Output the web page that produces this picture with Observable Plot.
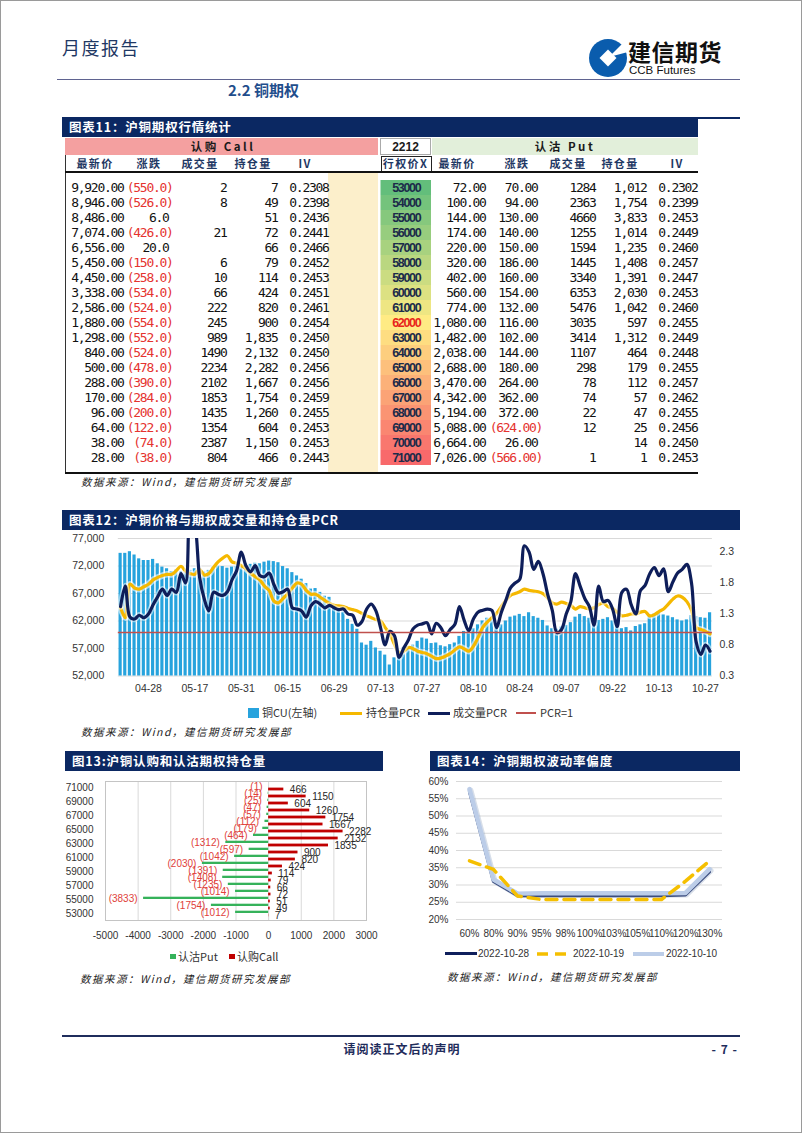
<!DOCTYPE html>
<html><head><meta charset="utf-8">
<script src="https://cdn.jsdelivr.net/npm/d3@7"></script>
<script src="https://cdn.jsdelivr.net/npm/@observablehq/plot@0.6"></script>
<style>
html,body{margin:0;padding:0;background:#fff;}
#page{position:relative;width:802px;height:1133px;overflow:hidden;background:#fff;font-family:"Noto Sans CJK SC","Noto Sans",sans-serif;}
.a{position:absolute;white-space:nowrap;}
.tb{position:absolute;background:#0b2862;color:#fff;font-weight:700;font-size:12.5px;height:20px;line-height:20px;padding-left:7px;letter-spacing:0.8px;box-sizing:border-box;white-space:nowrap;}
.src{font-style:italic;font-size:10.5px;color:#222;letter-spacing:1.5px;}
.ic{line-height:0;}
.ic svg{display:block;}
g[aria-label="strike"] text{letter-spacing:0;}
</style></head><body><div id="page"></div>
<script>
// ================= DATA =================
// Table 11: copper options quotes (strike 2212 series)
const strikes = [53000,54000,55000,56000,57000,58000,59000,60000,61000,62000,63000,64000,65000,66000,67000,68000,69000,70000,71000];
const callLast = [9920,8946,8486,7074,6556,5450,4450,3338,2586,1880,1298,840,500,288,170,96,64,38,28];
const callChg = [-550,-526,6,-426,20,-150,-258,-534,-524,-554,-552,-524,-478,-390,-284,-200,-122,-74,-38];
const callVol = [2,8,null,21,null,6,10,66,222,245,989,1490,2234,2102,1853,1435,1354,2387,804];
const callOI = [7,49,51,72,66,79,114,424,820,900,1835,2132,2282,1667,1754,1260,604,1150,466];
const callIV = [0.2308,0.2398,0.2436,0.2441,0.2466,0.2452,0.2453,0.2451,0.2461,0.2454,0.2450,0.2450,0.2456,0.2456,0.2459,0.2455,0.2453,0.2453,0.2443];
const putLast = [72,100,144,174,220,320,402,560,774,1080,1482,2038,2688,3470,4342,5194,5088,6664,7026];
const putChg = [70,94,130,140,150,186,160,154,132,116,102,144,180,264,362,372,-624,26,-566];
const putVol = [1284,2363,4660,1255,1594,1445,3340,6353,5476,3035,3414,1107,298,78,74,22,12,null,1];
const putOI = [1012,1754,3833,1014,1235,1408,1391,2030,1042,597,1312,464,179,112,57,47,25,14,1];
const putIV = [0.2302,0.2399,0.2453,0.2449,0.2460,0.2457,0.2447,0.2453,0.2460,0.2455,0.2449,0.2448,0.2455,0.2457,0.2462,0.2455,0.2456,0.2450,0.2453];
const atmStrike = 62000;

// Chart 12: copper price and option PCR (trading days)
const dates = ["04-20","04-21","04-22","04-25","04-26","04-27","04-28","04-29",
"05-05","05-06","05-09","05-10","05-11","05-12","05-13","05-16","05-17","05-18","05-19","05-20","05-23","05-24","05-25","05-26","05-27","05-30","05-31",
"06-01","06-02","06-06","06-07","06-08","06-09","06-10","06-13","06-14","06-15","06-16","06-17","06-20","06-21","06-22","06-23","06-24","06-27","06-28","06-29","06-30",
"07-01","07-04","07-05","07-06","07-07","07-08","07-11","07-12","07-13","07-14","07-15","07-18","07-19","07-20","07-21","07-22","07-25","07-26","07-27","07-28","07-29",
"08-01","08-02","08-03","08-04","08-05","08-08","08-09","08-10","08-11","08-12","08-15","08-16","08-17","08-18","08-19","08-22","08-23","08-24","08-25","08-26","08-29","08-30","08-31",
"09-01","09-02","09-05","09-06","09-07","09-08","09-09","09-13","09-14","09-15","09-16","09-19","09-20","09-21","09-22","09-23","09-26","09-27","09-28","09-29","09-30",
"10-10","10-11","10-12","10-13","10-14","10-17","10-18","10-19","10-20","10-21","10-24","10-25","10-26","10-27","10-28"];
const cuPrice = [74300,74300,74600,74000,73300,73000,73000,73200,72400,71800,
71500,71000,71300,71000,70800,71200,71500,71000,70900,71200,
71800,72000,71900,71600,71800,72000,71800,72400,72300,72500,
72400,72700,72900,72800,72600,71900,71500,70800,70200,69600,
68800,67800,67900,67200,66500,66300,64800,64000,63600,62300,
61400,60500,58000,57600,58300,57100,56500,55800,54000,55300,
56600,57200,57300,57600,58300,58900,58700,57900,58000,57500,
57300,57700,58000,59200,60100,60400,60600,61300,62000,62500,
62100,61500,61300,62000,62700,62900,63200,62800,63500,62800,
62500,62100,61100,60600,60500,60900,61200,61700,62700,63200,
62800,62500,62000,62100,62300,62600,62000,61500,60600,60800,
60200,61000,61300,61500,62800,63300,63500,63100,62900,62600,
62200,62000,62200,63000,62800,62600,62500,63500];
const oiPCR = [1.40,1.24,1.78,1.72,1.70,1.74,1.78,1.85,1.89,1.92,
1.94,1.94,2.00,2.07,1.99,1.95,1.94,2.02,1.93,1.95,
2.05,2.14,2.20,2.24,2.14,2.12,2.08,2.03,1.96,1.90,
1.85,1.75,1.68,1.51,1.48,1.55,1.63,1.72,1.80,1.78,
1.68,1.62,1.62,1.57,1.52,1.47,1.44,1.43,1.42,1.39,
1.37,1.35,1.31,1.27,1.24,1.21,1.19,1.08,0.98,0.81,
0.68,0.70,0.76,0.74,0.70,0.68,0.66,0.62,0.58,0.59,
0.62,0.66,0.72,0.77,0.74,0.70,0.78,0.92,1.08,1.17,
1.24,1.31,1.42,1.52,1.60,1.63,1.66,1.70,1.68,1.67,
1.66,1.63,1.56,1.48,1.46,1.49,1.47,1.44,1.38,1.42,
1.40,1.38,1.40,1.45,1.48,1.42,1.39,1.33,1.27,1.28,
1.30,1.30,1.33,1.34,1.27,1.29,1.34,1.38,1.46,1.54,
1.59,1.57,1.50,1.36,1.08,1.05,1.02,0.98];
const volPCR = [1.42,1.75,1.25,1.22,1.28,1.24,1.30,1.45,1.58,1.70,
1.60,1.70,1.65,1.95,1.80,2.95,2.75,1.90,1.55,1.35,
1.65,1.62,1.60,1.66,1.85,2.00,2.30,2.08,1.98,2.08,
1.92,1.90,1.96,1.78,1.64,1.66,1.70,1.40,1.38,1.35,
1.25,1.43,1.50,1.46,1.40,1.44,1.40,1.37,1.38,1.30,
1.28,1.12,1.18,1.38,1.46,1.35,1.08,0.80,1.02,0.95,
0.60,0.75,0.88,1.06,1.12,1.14,1.16,0.98,1.15,1.08,
0.95,1.05,1.13,1.42,1.20,1.03,1.22,1.33,1.36,1.38,
1.36,1.08,1.32,1.52,1.72,1.80,1.86,2.40,2.30,2.02,
2.15,1.95,1.62,1.36,1.00,1.05,1.30,1.50,1.95,1.75,
1.55,1.42,1.12,1.75,1.50,1.52,1.38,1.10,1.65,1.70,
1.45,1.30,1.68,1.76,1.95,2.05,1.92,2.03,1.66,1.82,
1.96,2.02,2.10,1.80,0.85,0.65,0.80,0.70];
const xTickLabels = ["04-28","05-17","05-31","06-15","06-29","07-13","07-27","08-10","08-24","09-07","09-22","10-13","10-27"];
const priceTicks = [52000,57000,62000,67000,72000,77000];
const pcrTicks = [0.3,0.8,1.3,1.8,2.3];
const pcrRef = 1;

// Chart 13: open interest by strike
const oiAxisTicks = [53000,55000,57000,59000,61000,63000,65000,67000,69000,71000];
const oiXTicks = [-5000,-4000,-3000,-2000,-1000,0,1000,2000,3000];

// Chart 14: volatility skew
const moneyness = ["60%","80%","90%","95%","98%","100%","103%","105%","110%","120%","130%"];
const iv1028 = [57.0,31.0,26.9,26.9,26.9,26.9,26.9,26.9,26.9,27.1,33.8];
const iv1019 = [37.0,34.5,26.8,25.8,25.8,25.8,25.8,25.8,25.8,31.1,37.0];
const iv1010 = [57.8,31.6,27.5,27.6,27.6,27.6,27.6,27.6,27.6,27.7,34.6];
const skewTicks = [20,25,30,35,40,45,50,55,60];

// ================= HELPERS =================
const page = document.getElementById("page");
function box(x,y,w,h,css){const d=document.createElement("div");d.className="a";d.style.cssText=`left:${x}px;top:${y}px;width:${w}px;height:${h}px;`+(css||"");page.appendChild(d);return d;}
function label(str,x,y,css,anchor){const d=document.createElement("div");d.className="a";d.textContent=str;const tx=anchor==="middle"?"-50%":anchor==="end"?"-100%":"0";d.style.cssText=`left:${x}px;top:${y}px;transform:translate(${tx},-50%);line-height:1.2;`+(css||"");page.appendChild(d);return d;}
function place(el,x,y){el.style.position="absolute";el.style.left=x+"px";el.style.top=y+"px";page.appendChild(el);}
function titleBar(str,x,y,w){const d=document.createElement("div");d.className="tb";d.textContent=str;d.style.left=x+"px";d.style.top=y+"px";d.style.width=w+"px";page.appendChild(d);}
const RED = "#e5332f";
const NAVY_TXT = "#1f3864";

// ================= HEADER =================
label("月度报告",62,48,"font-size:18px;color:#1f3864;letter-spacing:1.5px;");
const logo = document.createElement("div");
logo.className = "ic";
logo.innerHTML = `<svg width="40" height="42" viewBox="0 0 40 42"><circle cx="20" cy="21" r="19" fill="#0a5cad"/><rect x="14" y="15" width="12" height="12" fill="#fff" transform="rotate(45 20 21)"/><path d="M21 20 L40 1 L40 15 Z" fill="#fff"/></svg>`;
place(logo,588,37);
label("建信期货",628,52,"font-size:23px;font-weight:700;color:#111;letter-spacing:0.5px;");
label("CCB Futures",629,71,"font-size:11.5px;color:#111;font-family:'Liberation Sans',Arial,sans-serif;");
box(57,78.5,683,1.6,"background:#5f6390;");
label("2.2 铜期权",228,90,"font-size:15px;font-weight:700;color:#1f4e8c;");

// ================= TABLE 11 =================
titleBar("图表11：沪铜期权行情统计",62,117,636);
box(698,117,42,1.5,"background:#0b2862;");
box(65,137.5,313,17.5,"background:#f4a0a0;");
label("认购 Call",223,146.5,"font-size:11.5px;font-weight:700;color:#1a1a1a;letter-spacing:2.5px;","middle");
box(380,138,51,17,"background:#fff;border:1px solid #aaa;box-sizing:border-box;");
label("2212",405.5,146.5,"font-size:12px;font-weight:700;color:#1a1a1a;font-family:'Liberation Sans',Arial,sans-serif;","middle");
box(431.5,137.5,266.5,17.5,"background:#e2efda;");
label("认沽 Put",565,146.5,"font-size:11.5px;font-weight:700;color:#1a1a1a;letter-spacing:2.5px;","middle");
const hdrCss = `font-size:11px;font-weight:700;color:${NAVY_TXT};letter-spacing:1.4px;`;
[["最新价",95],["涨跌",149],["成交量",200],["持仓量",253],["IV",305],["行权价X",405.5],["最新价",457],["涨跌",517],["成交量",568],["持仓量",620],["IV",677]]
  .forEach(([t,x])=>label(t,x,164,hdrCss,"middle"));
box(380.5,156,51,16,"border:1.5px solid #222;box-sizing:border-box;");
box(328,173,50,298.5,"background:#fcefcb;");
box(64.5,155,1.5,318,"background:#333;");
box(65,171,633,2,"background:#111;");
box(65,471.5,633,2,"background:#111;");

const rows = strikes.map((s,i)=>({strike:s,cLast:callLast[i],cChg:callChg[i],cVol:callVol[i],cOI:callOI[i],cIV:callIV[i],pLast:putLast[i],pChg:putChg[i],pVol:putVol[i],pOI:putOI[i],pIV:putIV[i]}));
const T = {cLast:123,cChgPos:168,cChgNeg:172,cVol:226,cOI:277,cIV:328,strikeL:380.5,strikeR:431,strikeC:405.75,pLast:485,pChgPos:537,pChgNeg:541.5,pVol:595,pOI:646,pIV:697};
const f2 = d3.format(",.2f"), f1 = d3.format(".1f"), fc = d3.format(","), f4 = d3.format(".4f"), f2n = d3.format(".2f");
const k = v => () => v;
const tableSvg = Plot.plot({
  width: 802, height: 302, margin: 0,
  x: {type: "identity", axis: null},
  y: {type: "band", domain: strikes, range: [0, 301], padding: 0, axis: null},
  color: {type: "linear", domain: [53000, 62000, 71000], range: ["#63be7b", "#ffeb84", "#f8696b"]},
  style: "background:transparent;font-family:'DejaVu Sans Mono',monospace;font-size:13px;letter-spacing:-1.3px;color:#111;overflow:visible;",
  marks: [
    Plot.barX(rows, {x1: k(T.strikeL), x2: k(T.strikeR), y: "strike", fill: "strike"}),
    Plot.text(rows, {x: k(T.cLast), y: "strike", text: d => f2(d.cLast), textAnchor: "end", fill: "#111"}),
    Plot.text(rows.filter(d => d.cChg < 0), {x: k(T.cChgNeg), y: "strike", text: d => `(${f1(-d.cChg)})`, textAnchor: "end", fill: RED}),
    Plot.text(rows.filter(d => d.cChg >= 0), {x: k(T.cChgPos), y: "strike", text: d => f1(d.cChg), textAnchor: "end", fill: "#111"}),
    Plot.text(rows.filter(d => d.cVol != null), {x: k(T.cVol), y: "strike", text: d => String(d.cVol), textAnchor: "end", fill: "#111"}),
    Plot.text(rows, {x: k(T.cOI), y: "strike", text: d => fc(d.cOI), textAnchor: "end", fill: "#111"}),
    Plot.text(rows, {x: k(T.cIV), y: "strike", text: d => f4(d.cIV), textAnchor: "end", fill: "#111"}),
    Plot.text(rows.filter(d => d.strike !== atmStrike), {x: k(T.strikeC), y: "strike", text: d => String(d.strike), fill: "#1c2b4a", fontFamily: "'Liberation Sans',Arial,sans-serif", fontWeight: "bold", fontSize: 12.5, ariaLabel: "strike"}),
    Plot.text(rows.filter(d => d.strike === atmStrike), {x: k(T.strikeC), y: "strike", text: d => String(d.strike), fill: "#e8261c", fontFamily: "'Liberation Sans',Arial,sans-serif", fontWeight: "bold", fontSize: 12.5, ariaLabel: "strike"}),
    Plot.text(rows, {x: k(T.pLast), y: "strike", text: d => f2(d.pLast), textAnchor: "end", fill: "#111"}),
    Plot.text(rows.filter(d => d.pChg < 0), {x: k(T.pChgNeg), y: "strike", text: d => `(${f2n(-d.pChg)})`, textAnchor: "end", fill: RED}),
    Plot.text(rows.filter(d => d.pChg >= 0), {x: k(T.pChgPos), y: "strike", text: d => f2n(d.pChg), textAnchor: "end", fill: "#111"}),
    Plot.text(rows.filter(d => d.pVol != null), {x: k(T.pVol), y: "strike", text: d => String(d.pVol), textAnchor: "end", fill: "#111"}),
    Plot.text(rows, {x: k(T.pOI), y: "strike", text: d => fc(d.pOI), textAnchor: "end", fill: "#111"}),
    Plot.text(rows, {x: k(T.pIV), y: "strike", text: d => f4(d.pIV), textAnchor: "end", fill: "#111"})
  ]
});
place(tableSvg,0,172);
label("数据来源：Wind，建信期货研究发展部",81,481.5,"","start").classList.add("src");

// ================= CHART 12 =================
titleBar("图表12：沪铜价格与期权成交量和持仓量PCR",62,510,678);
const pcrTop = 0.3 + 137.5/62;
const toLeft = p => 52000 + (p - 0.3) / (pcrTop - 0.3) * 25000;
const fromLeft = v => (v - 52000) / 25000 * (pcrTop - 0.3) + 0.3;
const cuRows = dates.map((d,i)=>({i, date:d, price:cuPrice[i], oi:oiPCR[i], vol:volPCR[i]}));
const tickIdx = xTickLabels.map(t => dates.indexOf(t));
const c12 = Plot.plot({
  width: 760, height: 180,
  marginLeft: 117.8, marginRight: 48.1, marginTop: 8, marginBottom: 34.5,
  x: {domain: [-0.5, dates.length - 0.5]},
  y: {domain: [52000, 77000]},
  style: "background:transparent;font-family:'Liberation Sans',Arial,sans-serif;font-size:10.5px;color:#333;overflow:visible;",
  marks: [
    Plot.gridY(priceTicks, {stroke: "#d9d9d9", strokeOpacity: 1}),
    Plot.rect(cuRows, {x1: d => d.i - 0.34, x2: d => d.i + 0.34, y1: k(52000), y2: "price", fill: "#27a3dd"}),
    Plot.line(cuRows, {x: "i", y: d => toLeft(d.oi), stroke: "#ffffff", strokeOpacity: 0.6, strokeWidth: 6.5, curve: "catmull-rom", clip: true}),
    Plot.line(cuRows, {x: "i", y: d => toLeft(d.oi), stroke: "#f5b800", strokeWidth: 3.2, curve: "catmull-rom", clip: true}),
    Plot.line(cuRows, {x: "i", y: d => toLeft(d.vol), stroke: "#ffffff", strokeOpacity: 0.5, strokeWidth: 6.5, curve: "catmull-rom", clip: true}),
    Plot.line(cuRows, {x: "i", y: d => toLeft(d.vol), stroke: "#0e1e5a", strokeWidth: 3.2, curve: "catmull-rom", clip: true}),
    Plot.ruleY([toLeft(pcrRef)], {stroke: "#c0504d", strokeWidth: 1.5}),
    Plot.axisY(priceTicks, {tickSize: 0, tickPadding: 14, tickFormat: d3.format(","), label: null}),
    Plot.axisY(pcrTicks.map(toLeft), {anchor: "right", tickSize: 0, tickPadding: 7, tickFormat: v => fromLeft(v).toFixed(1), label: null}),
    Plot.axisX(tickIdx, {tickSize: 0, tickPadding: 9, tickFormat: i => dates[i], label: null})
  ]
});
place(c12,0,530);
box(248,708,11,10,"background:#27a3dd;");
label("铜CU(左轴)",262,713,"font-size:11px;color:#333;");
box(340,711.5,22,3,"background:#f5b800;");
label("持仓量PCR",366,713,"font-size:11px;color:#333;");
box(428,711.5,22,3,"background:#0e1e5a;");
label("成交量PCR",453,713,"font-size:11px;color:#333;");
box(516,712.2,20,1.6,"background:#c0504d;");
label("PCR=1",540,713,"font-size:11px;color:#333;");
label("数据来源：Wind，建信期货研究发展部",81,732,"","start").classList.add("src");

// ================= CHART 13 =================
titleBar("图13:沪铜认购和认沽期权持仓量",65,751,318);
const oiRows = strikes.map((s,i)=>({strike:s, put:putOI[i], call:callOI[i]}));
const c13 = Plot.plot({
  width: 400, height: 175,
  marginLeft: 105, marginRight: 34, marginTop: 6, marginBottom: 30,
  x: {domain: [-5000, 3000]},
  y: {type: "band", domain: [...strikes].reverse(), padding: 0},
  style: "background:transparent;font-family:'Liberation Sans',Arial,sans-serif;font-size:10px;color:#333;overflow:visible;",
  marks: [
    Plot.gridX(oiXTicks, {stroke: "#d9d9d9", strokeOpacity: 1}),
    Plot.frame({stroke: "#c4c4c4"}),
    Plot.barX(oiRows, {x: d => -d.put, y: "strike", fill: "#35b25a", insetTop: 0.7, insetBottom: 4}),
    Plot.barX(oiRows, {x: "call", y: "strike", fill: "#c00000", insetTop: 3.6, insetBottom: 0.6}),
    Plot.text(oiRows, {x: d => -d.put, y: "strike", text: d => `(${d.put})`, textAnchor: "end", dx: -6, dy: -1, fill: "#e0413a"}),
    Plot.text(oiRows, {x: "call", y: "strike", text: d => String(d.call), textAnchor: "start", dx: 6, dy: 2, fill: "#262626"}),
    Plot.axisY(oiAxisTicks, {tickSize: 0, tickPadding: 12, tickFormat: d => String(d), label: null}),
    Plot.axisX(oiXTicks, {tickSize: 0, tickPadding: 11, tickFormat: d => String(d), label: null})
  ]
});
place(c13,0,775);
box(170,953.5,5.5,5.5,"background:#35b25a;");
label("认沽Put",178,956.5,"font-size:11px;color:#333;");
box(229,953.5,5.5,5.5,"background:#c00000;");
label("认购Call",237,956.5,"font-size:11px;color:#333;");
label("数据来源：Wind，建信期货研究发展部",80,979,"","start").classList.add("src");

// ================= CHART 14 =================
titleBar("图表14：沪铜期权波动率偏度",430,751,310);
const skewRows = moneyness.map((m,i)=>({m, a:iv1028[i], b:iv1019[i], c:iv1010[i]}));
const c14 = Plot.plot({
  width: 345, height: 170,
  marginLeft: 56, marginRight: 23, marginTop: 6, marginBottom: 26,
  x: {type: "point", domain: moneyness, padding: 0.5},
  y: {domain: [20, 60]},
  style: "background:transparent;font-family:'Liberation Sans',Arial,sans-serif;font-size:10px;color:#333;overflow:visible;",
  marks: [
    Plot.gridY(skewTicks, {stroke: "#d9d9d9", strokeOpacity: 1}),
    Plot.line(skewRows, {x: "m", y: "a", stroke: "#0f1f5c", strokeWidth: 3}),
    Plot.line(skewRows, {x: "m", y: "c", stroke: "#8fa3c0", strokeOpacity: 0.35, strokeWidth: 6, dx: 1, dy: 1.5}),
    Plot.line(skewRows, {x: "m", y: "c", stroke: "#bccde8", strokeWidth: 4.5}),
    Plot.line(skewRows, {x: "m", y: "b", stroke: "#f5bf00", strokeWidth: 3.5, strokeDasharray: "11,7"}),
    Plot.axisY(skewTicks, {tickSize: 0, tickPadding: 8, tickFormat: d => d + "%", label: null}),
    Plot.axisX(moneyness, {tickSize: 0, tickPadding: 10, label: null})
  ]
});
place(c14,400,775);
box(445,952,32,3,"background:#0f1f5c;");
label("2022-10-28",478,953.5,"font-size:10px;color:#333;font-family:'Liberation Sans',Arial,sans-serif;");
const dash = document.createElement("div");
dash.className = "ic";
dash.innerHTML = `<svg width="36" height="6"><line x1="0" y1="3" x2="36" y2="3" stroke="#f5bf00" stroke-width="3.5" stroke-dasharray="11,7"/></svg>`;
place(dash,537,950.5);
label("2022-10-19",573,953.5,"font-size:10px;color:#333;font-family:'Liberation Sans',Arial,sans-serif;");
box(633,951.5,31,4,"background:#bccde8;");
label("2022-10-10",666,953.5,"font-size:10px;color:#333;font-family:'Liberation Sans',Arial,sans-serif;");
label("数据来源：Wind，建信期货研究发展部",447,977,"","start").classList.add("src");

// ================= FOOTER =================
box(62,1035,678,1.6,"background:#1f2d5c;");
label("请阅读正文后的声明",402,1049,"font-size:12px;font-weight:700;color:#1f2d5c;letter-spacing:1px;","middle");
label("- 7 -",738,1049,"font-size:12px;font-weight:700;color:#1f2d5c;letter-spacing:1px;","end");
box(0,0,802,1133,"border:1px solid #9a9a9a;box-sizing:border-box;pointer-events:none;");
</script></body></html>
